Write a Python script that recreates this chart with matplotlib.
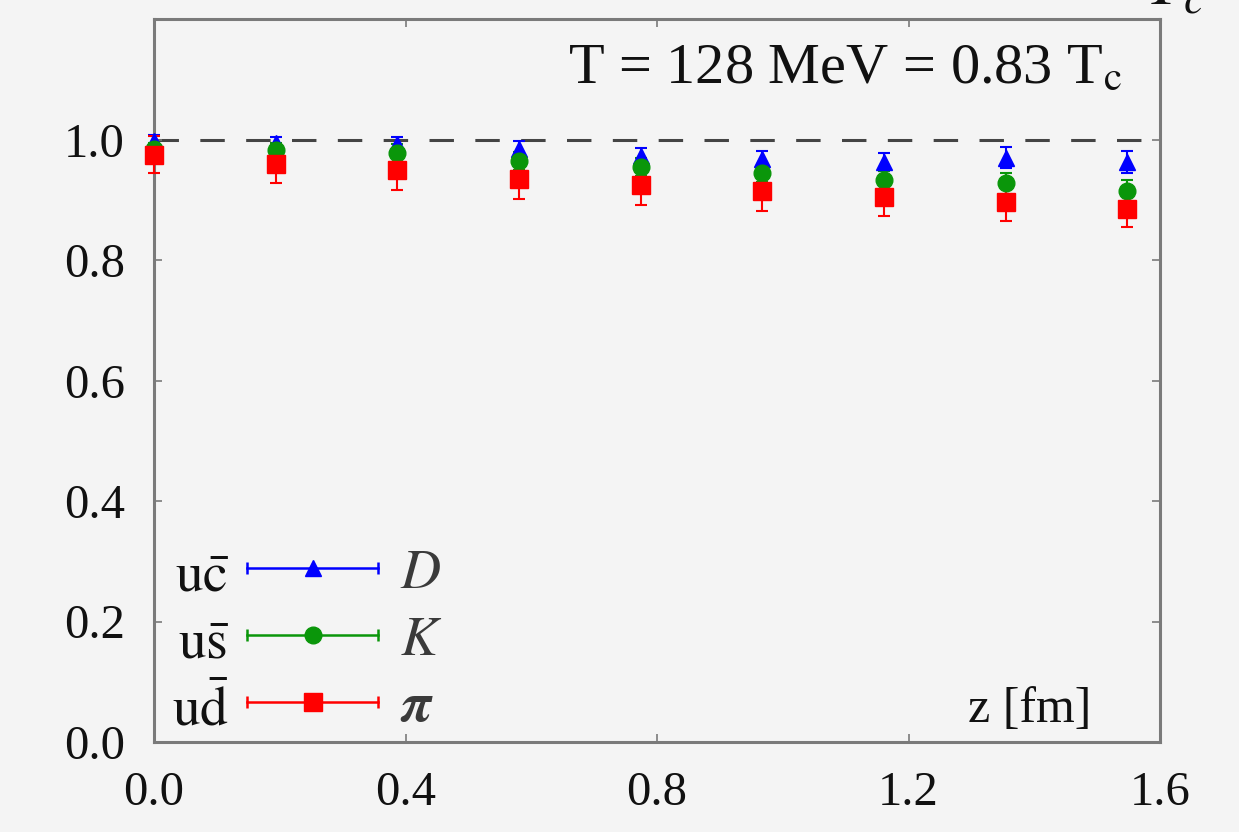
import matplotlib
matplotlib.use("Agg")
import matplotlib.pyplot as plt
from matplotlib.legend_handler import HandlerLine2D
from matplotlib.lines import Line2D

plt.rcParams["font.family"] = ["Liberation Serif", "DejaVu Serif"]
plt.rcParams["mathtext.fontset"] = "stix"

BG = "#f4f4f4"
SPINE = "#7a7a7a"

# separation z [fm]
z = [0.0, 0.1935, 0.387, 0.5805, 0.774, 0.9675, 1.161, 1.3545, 1.548]

# D (u c-bar)
d_val = [0.998, 0.994, 0.992, 0.985, 0.973, 0.967, 0.962, 0.970, 0.963]
d_err = [0.010, 0.010, 0.012, 0.012, 0.013, 0.014, 0.015, 0.017, 0.018]
# K (u s-bar)
k_val = [0.985, 0.982, 0.977, 0.965, 0.954, 0.944, 0.932, 0.927, 0.914]
k_err = [0.010, 0.012, 0.015, 0.015, 0.015, 0.015, 0.016, 0.018, 0.018]
# pi (u d-bar)
pi_val = [0.975, 0.959, 0.949, 0.935, 0.925, 0.914, 0.905, 0.896, 0.884]
pi_err = [0.030, 0.032, 0.033, 0.033, 0.034, 0.033, 0.032, 0.031, 0.030]

series = [
    (d_val, d_err, "#0000ff", "^", 12, r"$D$", r"$\mathrm{u\bar{c}}$"),
    (k_val, k_err, "#0a960a", "o", 12, r"$K$", r"$\mathrm{u\bar{s}}$"),
    (pi_val, pi_err, "#ff0000", "s", 13, r"$\boldsymbol{\pi}$", r"$\mathrm{u\bar{d}}$"),
]

xticks = [0.0, 0.4, 0.8, 1.2, 1.6]
yticks = [0.0, 0.2, 0.4, 0.6, 0.8, 1.0, 1.2]
ytick_labels = ["0.0", "0.2", "0.4", "0.6", "0.8", "1.0", ""]

fig = plt.figure(figsize=(12.39, 8.32), dpi=100, facecolor=BG)
ax = fig.add_axes([154 / 1239, 1 - 742 / 832, 1006 / 1239, 723 / 832], facecolor=BG)

ax.axhline(1.0, color="#444444", lw=2.2, ls=(0, (8, 7)), zorder=1)

handles = []
hmap = {}
for vals, errs, color, marker, ms, lab, _ in series:
    ax.errorbar(z, vals, yerr=errs, fmt=marker, color=color, ms=ms,
                mec=color, elinewidth=1.5, capsize=4, capthick=1.5,
                clip_on=False, zorder=3)
    caps = Line2D([], [], color=color, lw=1.8, marker="|", ms=9, mew=1.8)
    mark = Line2D([], [], color=color, lw=0, marker=marker, ms=ms)
    hmap[caps] = HandlerLine2D(numpoints=2, marker_pad=0)
    hmap[mark] = HandlerLine2D(numpoints=1)
    handles.append((caps, mark))

leg = ax.legend(handles, [s[5] for s in series], handler_map=hmap,
                loc="lower left", bbox_to_anchor=(0.0924, 0.012),
                frameon=False, fontsize=40, handlelength=2.36,
                handletextpad=0.4, labelspacing=0.265, borderpad=0,
                borderaxespad=0)
for t in leg.get_texts():
    t.set_color("#3a3a3a")

left_y = [0.2075, 0.116, 0.0235]
for (_, _, _, _, _, _, quark), y in zip(series, left_y):
    ax.text(0.075, y, quark, transform=ax.transAxes, ha="right",
            va="baseline", fontsize=40, color="#111111")

ax.text(0.962, 0.911, r"T = 128 MeV = 0.83 T$_\mathrm{c}$", transform=ax.transAxes,
        ha="right", va="baseline", fontsize=42, color="#111111")
ax.text(0.932, 0.028, "z [fm]", transform=ax.transAxes, ha="right",
        va="baseline", fontsize=36, color="#111111")

fig.text(0.925, 1 - 4 / 832, r"$T_c$", ha="left", va="baseline", fontsize=48,
         color="#111111")

ax.set_xlim(0, 1.6)
ax.set_ylim(0, 1.2)
ax.set_xticks(xticks)
ax.set_xticklabels([f"{v:.1f}" for v in xticks])
ax.set_yticks(yticks)
ax.set_yticklabels(ytick_labels)
ax.tick_params(direction="in", length=6, width=1.2, color=SPINE, labelsize=35,
               labelcolor="#111111", pad=21, top=True, right=True)
for sp in ax.spines.values():
    sp.set_color(SPINE)
    sp.set_linewidth(2.2)

fig.savefig("out.png", dpi=100, facecolor=BG)
